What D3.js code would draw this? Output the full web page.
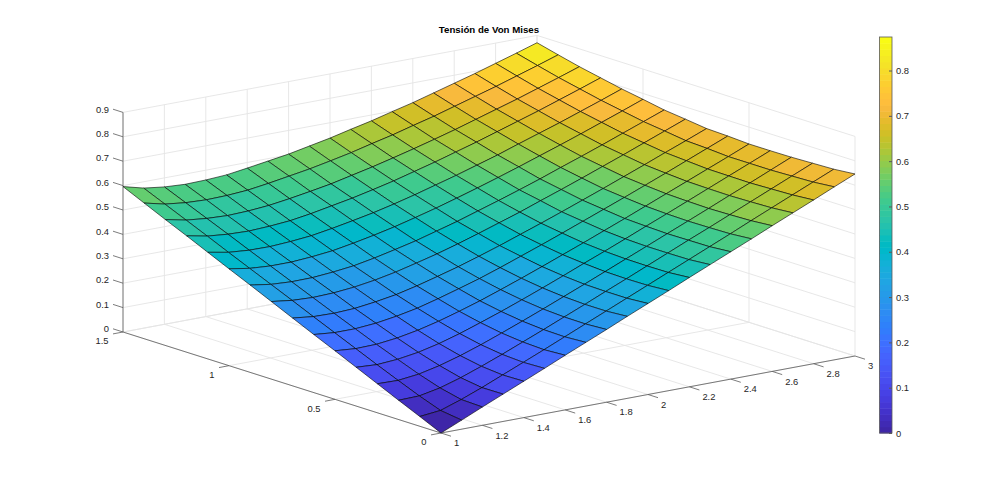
<!DOCTYPE html>
<html><head><meta charset="utf-8"><script src="https://cdn.jsdelivr.net/npm/d3@7"></script>
<style>html,body{margin:0;background:#fff}svg{display:block}text{font-family:"Liberation Sans",Arial,sans-serif;fill:#262626}</style></head>
<body><svg id="c" width="1000" height="487"></svg>
<script>
const parulaRows=[[0.2422,0.1504,0.6603],[0.2504,0.1650,0.7076],[0.2578,0.1818,0.7511],[0.2647,0.1978,0.7952],[0.2706,0.2147,0.8364],[0.2751,0.2342,0.8710],[0.2783,0.2559,0.8991],[0.2803,0.2782,0.9221],[0.2813,0.3006,0.9414],[0.2810,0.3228,0.9579],[0.2795,0.3447,0.9717],[0.2760,0.3667,0.9829],[0.2699,0.3892,0.9906],[0.2602,0.4123,0.9952],[0.2440,0.4358,0.9988],[0.2206,0.4603,0.9973],[0.1963,0.4847,0.9892],[0.1834,0.5074,0.9798],[0.1786,0.5289,0.9682],[0.1764,0.5499,0.9520],[0.1687,0.5703,0.9359],[0.1540,0.5902,0.9218],[0.1460,0.6091,0.9079],[0.1380,0.6276,0.8973],[0.1248,0.6459,0.8883],[0.1113,0.6635,0.8763],[0.0952,0.6798,0.8598],[0.0689,0.6948,0.8394],[0.0297,0.7082,0.8163],[0.0036,0.7203,0.7917],[0.0067,0.7312,0.7660],[0.0433,0.7411,0.7394],[0.0964,0.7500,0.7120],[0.1408,0.7584,0.6842],[0.1717,0.7670,0.6554],[0.1938,0.7758,0.6251],[0.2161,0.7843,0.5923],[0.2470,0.7918,0.5567],[0.2906,0.7973,0.5188],[0.3406,0.8008,0.4789],[0.3909,0.8029,0.4354],[0.4456,0.8024,0.3909],[0.5044,0.7993,0.3480],[0.5616,0.7942,0.3045],[0.6174,0.7876,0.2612],[0.6720,0.7793,0.2227],[0.7242,0.7698,0.1910],[0.7738,0.7598,0.1646],[0.8203,0.7498,0.1535],[0.8634,0.7406,0.1596],[0.9035,0.7330,0.1774],[0.9393,0.7288,0.2100],[0.9728,0.7298,0.2394],[0.9956,0.7434,0.2371],[0.9970,0.7659,0.2199],[0.9952,0.7893,0.2028],[0.9892,0.8136,0.1885],[0.9786,0.8386,0.1766],[0.9676,0.8639,0.1643],[0.9610,0.8890,0.1537],[0.9597,0.9135,0.1423],[0.9628,0.9373,0.1265],[0.9691,0.9606,0.1064],[0.9769,0.9839,0.0805]];
const xVals=[1,1.1,1.2,1.3,1.4,1.5,1.6,1.7,1.8,1.9,2,2.1,2.2,2.3,2.4,2.5,2.6,2.7,2.8,2.9,3];
const yVals=[0,.1,.2,.3,.4,.5,.6,.7,.8,.9,1,1.1,1.2,1.3,1.4,1.5];
const zAtY00=[0,.037,.075,.112,.149,.186,.224,.261,.298,.336,.373,.410,.448,.485,.522,.559,.597,.634,.671,.709,.746];
const zAtY01=[.040,.049,.078,.111,.147,.183,.219,.256,.293,.330,.367,.404,.441,.478,.515,.552,.590,.627,.664,.701,.738];
const zAtY02=[.079,.081,.098,.124,.155,.188,.223,.258,.294,.330,.367,.403,.440,.477,.514,.550,.587,.624,.661,.698,.735];
const zAtY03=[.119,.117,.127,.146,.171,.200,.232,.265,.299,.334,.369,.405,.441,.477,.513,.549,.585,.622,.658,.695,.732];
const zAtY04=[.159,.154,.160,.173,.193,.218,.247,.277,.309,.342,.376,.411,.445,.480,.516,.551,.587,.623,.659,.695,.731];
const zAtY05=[.199,.192,.194,.204,.220,.241,.266,.293,.323,.354,.386,.419,.452,.486,.520,.555,.590,.625,.660,.695,.731];
const zAtY06=[.238,.230,.230,.237,.250,.267,.290,.315,.341,.370,.401,.432,.464,.497,.530,.563,.597,.631,.666,.701,.736];
const zAtY07=[.278,.268,.266,.270,.281,.295,.315,.338,.362,.389,.417,.447,.477,.508,.540,.572,.605,.638,.672,.705,.739];
const zAtY08=[.318,.307,.303,.306,.314,.327,.344,.365,.387,.412,.439,.467,.495,.526,.556,.587,.619,.651,.684,.717,.750];
const zAtY09=[.358,.345,.340,.341,.348,.358,.374,.393,.413,.437,.461,.488,.515,.543,.572,.603,.633,.664,.696,.728,.760];
const zAtY10=[.397,.383,.377,.377,.383,.392,.407,.424,.443,.465,.488,.513,.539,.566,.594,.623,.652,.682,.713,.744,.776];
const zAtY11=[.437,.421,.414,.413,.418,.426,.440,.456,.473,.493,.515,.539,.563,.589,.615,.644,.672,.700,.730,.760,.791];
const zAtY12=[.477,.460,.452,.449,.453,.460,.473,.489,.505,.524,.544,.567,.590,.615,.640,.667,.694,.721,.750,.779,.809];
const zAtY13=[.516,.498,.489,.485,.488,.495,.507,.521,.536,.555,.574,.595,.617,.640,.664,.690,.716,.742,.770,.798,.827];
const zAtY14=[.556,.536,.526,.522,.524,.530,.542,.556,.570,.587,.605,.626,.646,.669,.691,.716,.741,.766,.793,.820,.848];
const zAtY15=[.596,.574,.563,.558,.560,.565,.577,.590,.603,.620,.637,.657,.676,.698,.719,.743,.767,.791,.817,.843,.870];
const Z=[zAtY00,zAtY01,zAtY02,zAtY03,zAtY04,zAtY05,zAtY06,zAtY07,zAtY08,zAtY09,zAtY10,zAtY11,zAtY12,zAtY13,zAtY14,zAtY15];
const xTicks=[1,1.2,1.4,1.6,1.8,2,2.2,2.4,2.6,2.8,3], yTicks=[0,.5,1,1.5], zTicks=[0,.1,.2,.3,.4,.5,.6,.7,.8,.9], cbTicks=[0,.1,.2,.3,.4,.5,.6,.7,.8];
const title="Tensión de Von Mises";

const O=[441,433];
const xSx=d3.scaleLinear([1,3],[0,414]), xSy=d3.scaleLinear([1,3],[0,-77]);
const ySx=d3.scaleLinear([0,1.5],[0,-318]), ySy=d3.scaleLinear([0,1.5],[0,-101]);
const zS=d3.scaleLinear([0,.9],[0,-219.6]);
const P=(x,y,z)=>[O[0]+xSx(x)+ySx(y),O[1]+xSy(x)+ySy(y)+zS(z)];
const col=d3.scaleQuantize([0,.874],parulaRows.map(c=>d3.rgb(c[0]*255,c[1]*255,c[2]*255).formatHex()));
const svg=d3.select("#c");
const line=d3.line();
const grid=svg.append("g").attr("fill","none").attr("stroke","#e4e4e4").attr("stroke-width",.9);
const seg=(g,pts)=>g.append("path").attr("d",line(pts));
const [x0,x1]=[1,3],[y0,y1]=[0,1.5];
const zTop=.9;
xTicks.forEach(x=>{seg(grid,[P(x,y0,0),P(x,y1,0),P(x,y1,zTop)]);});
yTicks.forEach(y=>{seg(grid,[P(x0,y,0),P(x1,y,0),P(x1,y,zTop)]);});
zTicks.forEach(z=>{seg(grid,[P(x0,y1,z),P(x1,y1,z),P(x1,y0,z)]);});
const ax=svg.append("g").attr("fill","none").attr("stroke","#5a5a5a").attr("stroke-width",.8);
seg(ax,[P(x0,y0,0),P(x1,y0,0)]);seg(ax,[P(x0,y0,0),P(x0,y1,0)]);seg(ax,[P(x0,y1,0),P(x0,y1,zTop)]);
const tl=svg.append("g").attr("font-size",9.4);
const lab=(s,px,py,a)=>tl.append("text").attr("x",px).attr("y",py).attr("text-anchor",a).attr("dy","0.35em").text(s);
xTicks.forEach(x=>{const p=P(x,y0,0);seg(ax,[p,[p[0]+10,p[1]+3.2]]);lab(String(x),p[0]+13,p[1]+10,"start");});
yTicks.forEach(y=>{const p=P(x0,y,0);seg(ax,[p,[p[0]-10,p[1]+1.9]]);lab(String(y),p[0]-14.5,p[1]+9,"end");});
zTicks.forEach(z=>{const p=P(x0,y1,z);seg(ax,[p,[p[0]-10,p[1]-3.2]]);lab(String(z),p[0]-14,p[1]-3,"end");});
// surface, back to front; each face takes the colour of its first vertex
const surf=svg.append("g").attr("stroke","#000").attr("stroke-width",.6).attr("stroke-linejoin","round");
for(let j=yVals.length-2;j>=0;j--)for(let i=xVals.length-2;i>=0;i--){
 const q=[[i,j],[i+1,j],[i+1,j+1],[i,j+1]].map(([a,b])=>P(xVals[a],yVals[b],Z[b][a]));
 surf.append("path").attr("d",line(q)+"Z").attr("fill",col(Z[j][i]));
}
svg.append("text").attr("x",489).attr("y",30).attr("dy","0.35em").attr("text-anchor","middle").attr("font-size",9.7).attr("font-weight","bold").style("fill","#000").text(title);
// colorbar
const cbY=d3.scaleLinear([0,.874],[433,37]);
const cb=svg.append("g");
col.range().forEach(c=>{const [a,b]=col.invertExtent(c);cb.append("rect").attr("x",879.5).attr("width",12.5).attr("y",cbY(b)).attr("height",cbY(a)-cbY(b)+.5).attr("fill",c);});
const axisG=svg.append("g").attr("transform","translate(892,0)").call(d3.axisRight(cbY).tickValues(cbTicks).tickFormat(d=>String(d)).tickSizeInner(-3).tickSizeOuter(0).tickPadding(4));
axisG.selectAll("text").attr("font-size",9.4).attr("font-family",null);
axisG.selectAll("line").attr("stroke","#5a5a5a");axisG.select(".domain").remove();
svg.append("rect").attr("x",879.5).attr("y",37).attr("width",12.5).attr("height",396).attr("fill","none").attr("stroke","#5a5a5a").attr("stroke-width",.8);
</script></body></html>
